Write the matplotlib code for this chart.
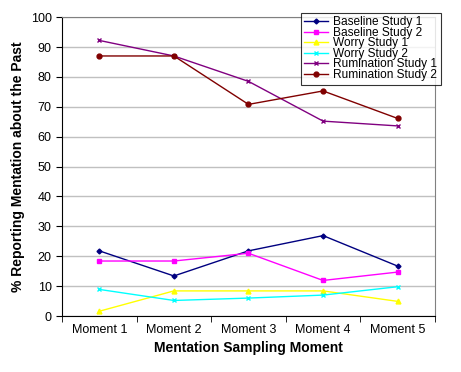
import matplotlib
matplotlib.use("Agg")
import matplotlib.pyplot as plt
import numpy as np

plt.rcParams['font.family'] = ['Liberation Sans', 'DejaVu Sans']

moments = ["Moment 1", "Moment 2", "Moment 3", "Moment 4", "Moment 5"]
baseline1 = [21.8, 13.4, 21.8, 26.9, 16.7]
baseline2 = [18.4, 18.4, 21.0, 11.9, 14.7]
worry1 = [1.6, 8.4, 8.4, 8.4, 4.9]
worry2 = [8.9, 5.2, 6.0, 7.0, 9.8]
rumination1 = [92.2, 87.0, 78.5, 65.2, 63.6]
rumination2 = [87.0, 87.0, 70.8, 75.3, 66.1]

series = [
    ("Baseline Study 1", baseline1, "#000080", "D", 2.5),
    ("Baseline Study 2", baseline2, "#FF00FF", "s", 3.5),
    ("Worry Study 1", worry1, "#FFFF00", "^", 3.5),
    ("Worry Study 2", worry2, "#00FFFF", "x", 3.5),
    ("Rumination Study 1", rumination1, "#800080", "x", 3.5),
    ("Rumination Study 2", rumination2, "#800000", "o", 3.5),
]

fig = plt.figure(figsize=(4.61, 3.72), dpi=100)
ax = fig.add_axes([0.1345, 0.1505, 0.809, 0.8035])

x = np.arange(len(moments))
for name, vals, col, mk, ms in series:
    ax.plot(x, vals, color=col, marker=mk, markersize=ms, linewidth=1, label=name,
            markeredgewidth=1)

ax.set_xlim(-0.5, 4.5)
ax.set_ylim(0, 100)
ax.set_yticks(range(0, 101, 10))
ax.set_xticks(x)
ax.set_xticklabels(moments, fontsize=9)
ax.set_xticks(np.arange(-0.5, 5, 1), minor=True)
ax.tick_params(axis='x', which='major', length=0, pad=6)
ax.tick_params(axis='x', which='minor', length=4, direction='out')
ax.tick_params(axis='y', labelsize=9, length=4, direction='out')
ax.yaxis.grid(True, color="#c0c0c0", linewidth=1)
ax.set_axisbelow(True)
for s in ax.spines.values():
    s.set_color("#808080")
ax.spines['left'].set_color("black")
ax.spines['bottom'].set_color("black")

ax.set_xlabel("Mentation Sampling Moment", fontsize=10, fontweight='bold', labelpad=3)
ax.set_ylabel("% Reporting Mentation about the Past", fontsize=10, fontweight='bold')

leg = ax.legend(loc='upper right', bbox_to_anchor=(1.015, 1.015), fontsize=8.6,
                frameon=True, fancybox=False, borderpad=0.3, labelspacing=-0.12,
                handlelength=2.0, handletextpad=0.4, borderaxespad=0)
leg.get_frame().set_edgecolor("black")
leg.get_frame().set_linewidth(0.8)

fig.savefig("out.png", dpi=100)
